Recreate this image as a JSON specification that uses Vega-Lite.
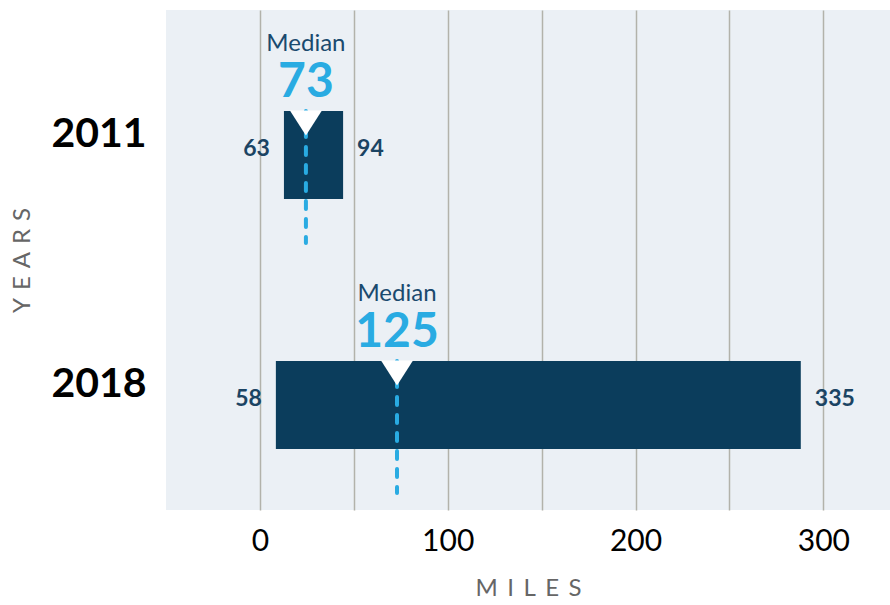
{
  "$schema": "https://vega.github.io/schema/vega-lite/v6.json",
  "autosize": "none",
  "width": 724,
  "height": 500,
  "padding": {"left": 166, "top": 10, "right": 0, "bottom": 95},
  "background": "white",
  "view": {"fill": "#ebf0f5", "stroke": null},
  "config": {"font": "Lato"},
  "data": {
    "values": [
      {"year": "2011", "lo": 12.8, "hi": 44.3, "med": 24.5, "loLabel": "63", "hiLabel": "94", "medLabel": "73"},
      {"year": "2018", "lo": 8.5, "hi": 288, "med": 73, "loLabel": "58", "hiLabel": "335", "medLabel": "125"}
    ]
  },
  "encoding": {
    "y": {
      "field": "year",
      "type": "nominal",
      "sort": ["2011", "2018"],
      "scale": {"paddingInner": 0, "paddingOuter": 0},
      "axis": {
        "title": "Y\u2004E\u2004A\u2004R\u2004S",
        "titleFont": "Lato",
        "titleFontSize": 24,
        "titleFontWeight": "normal",
        "titleColor": "#666666",
        "titlePadding": 16,
        "labelFont": "Lato",
        "labelFontSize": 41,
        "labelFontWeight": "bold",
        "labelColor": "#000000",
        "labelPadding": 20,
        "ticks": false,
        "domain": false,
        "grid": false
      }
    }
  },
  "layer": [
    {
      "mark": {"type": "bar", "height": 88, "yOffset": 20, "color": "#0b3d5c"},
      "encoding": {
        "x": {
          "field": "lo",
          "type": "quantitative",
          "scale": {"domain": [-50, 335.5], "nice": false, "zero": false},
          "axis": {
            "title": "M\u2004\u200aI\u2004\u200aL\u2004\u200aE\u2004\u200aS",
            "titleFont": "Lato",
            "titleFontSize": 24,
            "titleFontWeight": "normal",
            "titleColor": "#666666",
            "titlePadding": 20,
            "values": [0, 50, 100, 150, 200, 250, 300],
            "labelExpr": "datum.value % 100 === 0 ? datum.label : ''",
            "labelFont": "Lato",
            "labelFontSize": 30,
            "labelColor": "#000000",
            "labelPadding": 16,
            "ticks": false,
            "domain": false,
            "grid": true,
            "gridColor": "#b2b2aa",
            "gridWidth": 1.5
          }
        },
        "x2": {"field": "hi"}
      }
    },
    {
      "mark": {"type": "rule", "yOffset": -24, "y2Offset": 108, "strokeDash": [8, 10], "strokeWidth": 4, "strokeCap": "round", "color": "#29abe2"},
      "encoding": {
        "x": {"field": "med", "type": "quantitative"},
        "y2": {"field": "year"}
      }
    },
    {
      "mark": {"type": "point", "shape": "M-1,-0.78L1,-0.78L0,0.78Z", "size": 1024, "filled": true, "color": "#ffffff", "opacity": 1, "strokeWidth": 0, "yOffset": -12},
      "encoding": {
        "x": {"field": "med", "type": "quantitative"}
      }
    },
    {
      "mark": {"type": "text", "dy": -91, "fontSize": 24, "font": "Lato", "color": "#1a4a6e", "baseline": "middle", "align": "center"},
      "encoding": {
        "x": {"field": "med", "type": "quantitative"},
        "text": {"value": "Median"}
      }
    },
    {
      "mark": {"type": "text", "dy": -38, "fontSize": 48, "fontWeight": "bold", "font": "Lato", "color": "#29abe2", "baseline": "alphabetic", "align": "center"},
      "encoding": {
        "x": {"field": "med", "type": "quantitative"},
        "text": {"field": "medLabel"}
      }
    },
    {
      "mark": {"type": "text", "dx": -14, "dy": 14, "fontSize": 23, "fontWeight": "bold", "font": "Lato", "color": "#1b4463", "baseline": "middle", "align": "right"},
      "encoding": {
        "x": {"field": "lo", "type": "quantitative"},
        "text": {"field": "loLabel"}
      }
    },
    {
      "mark": {"type": "text", "dx": 14, "dy": 14, "fontSize": 23, "fontWeight": "bold", "font": "Lato", "color": "#1b4463", "baseline": "middle", "align": "left"},
      "encoding": {
        "x": {"field": "hi", "type": "quantitative"},
        "text": {"field": "hiLabel"}
      }
    }
  ]
}
